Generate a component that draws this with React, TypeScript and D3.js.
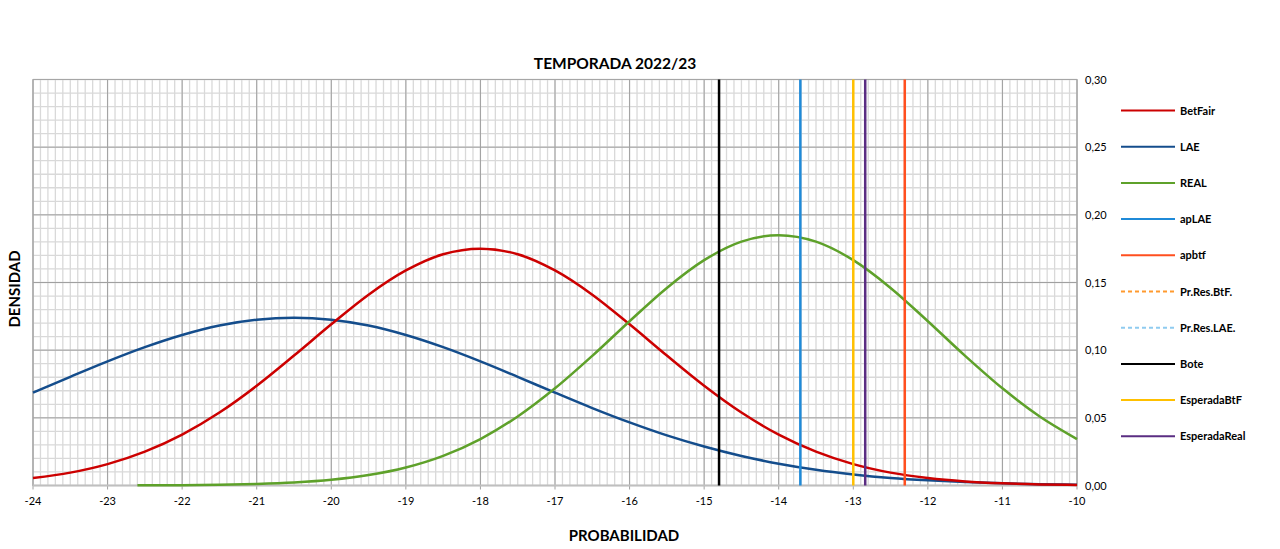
import React from "react";
import * as d3 from "d3";

const xs = [-24, -23.5, -23, -22.5, -22, -21.5, -21, -20.5, -20, -19.5, -19, -18.5, -18, -17.5, -17, -16.5, -16, -15.5, -15, -14.5, -14, -13.5, -13, -12.5, -12, -11.5, -11, -10.5, -10];
const betfair = [0.0055, 0.0095, 0.0158, 0.025, 0.0376, 0.0539, 0.0737, 0.096, 0.1191, 0.141, 0.1589, 0.1709, 0.175, 0.1709, 0.1589, 0.141, 0.1191, 0.096, 0.0737, 0.0539, 0.0376, 0.025, 0.0158, 0.0095, 0.0055, 0.003, 0.0016, 0.0008, 0.0004];
const lae = [0.0686, 0.0803, 0.0917, 0.1022, 0.1112, 0.1182, 0.1225, 0.124, 0.1225, 0.1182, 0.1112, 0.1022, 0.0917, 0.0803, 0.0686, 0.0572, 0.0466, 0.037, 0.0288, 0.0218, 0.0161, 0.0116, 0.0082, 0.0056, 0.0038, 0.0025, 0.0016, 0.001, 0.0006];
const realXs = [-22.6, -22.5, -22, -21.5, -21, -20.5, -20, -19.5, -19, -18.5, -18, -17.5, -17, -16.5, -16, -15.5, -15, -14.5, -14, -13.5, -13, -12.5, -12, -11.5, -11, -10.5, -10];
const real = [0.0001, 0.0001, 0.0002, 0.0005, 0.0011, 0.0022, 0.0042, 0.0077, 0.0133, 0.0219, 0.0343, 0.051, 0.0718, 0.0958, 0.1214, 0.146, 0.1665, 0.1802, 0.185, 0.1802, 0.1665, 0.146, 0.1214, 0.0958, 0.0718, 0.051, 0.0343];

const vLineNames = ["Bote", "apLAE", "EsperadaBtF", "EsperadaReal", "apbtf"];
const vLineXs = [-14.8, -13.71, -13.0, -12.84, -12.31];
const vLineColors = ["#000000", "#1f8ad8", "#ffc000", "#5a2d82", "#ff4f1f"];

const legendNames = ["BetFair", "LAE", "REAL", "apLAE", "apbtf", "Pr.Res.BtF.", "Pr.Res.LAE.", "Bote", "EsperadaBtF", "EsperadaReal"];
const legendColors = ["#cc0000", "#144d8c", "#5ea12a", "#1f8ad8", "#ff4f1f", "#ff9a2e", "#8fcbf0", "#000000", "#ffc000", "#5a2d82"];
const legendDashed = [false, false, false, false, false, true, true, false, false, false];

const xTicks = [-24, -23, -22, -21, -20, -19, -18, -17, -16, -15, -14, -13, -12, -11, -10];
const yTicks = [0, 0.05, 0.1, 0.15, 0.2, 0.25, 0.3];

const FONT = "Lato, 'Open Sans', sans-serif";

export default function App() {
  const W = 1280, H = 549;
  const left = 33, right = 1077, top = 79.5, bottom = 485.5;
  const x = d3.scaleLinear().domain([-24, -10]).range([left, right]);
  const y = d3.scaleLinear().domain([0, 0.3]).range([bottom, top]);

  const minorX = d3.range(0, 141).map((i) => -24 + i * 0.1);
  const minorY = d3.range(0, 31).map((i) => i * 0.01);

  const line = d3.line<[number, number]>().x((d) => x(d[0])).y((d) => y(d[1])).curve(d3.curveMonotoneX);
  const bfPath = line(xs.map((v, i) => [v, betfair[i]] as [number, number]))!;
  const laePath = line(xs.map((v, i) => [v, lae[i]] as [number, number]))!;
  const realPath = line(realXs.map((v, i) => [v, real[i]] as [number, number]))!;

  const fmt = (v: number) => v.toFixed(2).replace(".", ",");

  return (
    <svg width={W} height={H} style={{ position: "absolute", left: 0, top: 0, background: "#fff" }} fontFamily={FONT}>
      <rect x={0} y={0} width={W} height={H} fill="#fff" />
      {minorX.map((v, i) => (
        <line key={"mx" + i} x1={x(v)} x2={x(v)} y1={top} y2={bottom} stroke="#d9d9d9" strokeWidth={1.3} />
      ))}
      {minorY.map((v, i) => (
        <line key={"my" + i} x1={left} x2={right} y1={y(v)} y2={y(v)} stroke="#d9d9d9" strokeWidth={1.3} />
      ))}
      {xTicks.map((v) => (
        <line key={"Mx" + v} x1={x(v)} x2={x(v)} y1={top} y2={bottom + 4} stroke="#a0a0a0" strokeWidth={1} />
      ))}
      {yTicks.map((v) => (
        <line key={"My" + v} x1={left} x2={right} y1={y(v)} y2={y(v)} stroke="#a0a0a0" strokeWidth={1} />
      ))}
      <rect x={left} y={top} width={right - left} height={bottom - top} fill="none" stroke="#a6a6a6" strokeWidth={1} />
      <line x1={left} x2={right} y1={bottom} y2={bottom} stroke="#bfbfbf" strokeWidth={2} />

      <path d={laePath} fill="none" stroke="#144d8c" strokeWidth={2.5} />
      <path d={bfPath} fill="none" stroke="#cc0000" strokeWidth={2.5} />
      <path d={realPath} fill="none" stroke="#5ea12a" strokeWidth={2.5} />

      {vLineXs.map((v, i) => (
        <line key={vLineNames[i]} x1={x(v)} x2={x(v)} y1={top} y2={bottom} stroke={vLineColors[i]} strokeWidth={2.5} />
      ))}

      {xTicks.map((v) => (
        <text key={"tx" + v} x={x(v)} y={505} textAnchor="middle" fontSize={11} fill="#000">{v}</text>
      ))}
      {yTicks.map((v) => (
        <text key={"ty" + v} x={1085} y={y(v) + 4} fontSize={11} fill="#000">{fmt(v)}</text>
      ))}

      <text x={615} y={69} textAnchor="middle" fontSize={15.5} fontWeight="bold" fill="#000">TEMPORADA 2022/23</text>
      <text x={624} y={541} textAnchor="middle" fontSize={15} fontWeight="bold" fill="#000">PROBABILIDAD</text>
      <text transform="translate(20,289) rotate(-90)" textAnchor="middle" fontSize={15} fontWeight="bold" fill="#000">DENSIDAD</text>

      {legendNames.map((n, i) => {
        const ly = 110.5 + i * 36.2;
        return (
          <g key={n}>
            <line x1={1121} x2={1175} y1={ly} y2={ly} stroke={legendColors[i]} strokeWidth={2} strokeDasharray={legendDashed[i] ? "4,3" : undefined} />
            <text x={1180} y={ly + 4} fontSize={11} fontWeight="bold" fill="#000">{n}</text>
          </g>
        );
      })}
    </svg>
  );
}
